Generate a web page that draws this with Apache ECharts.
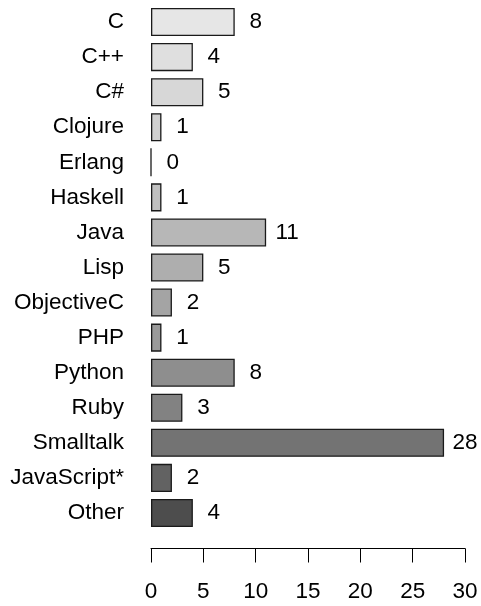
<!DOCTYPE html>
<html><head><meta charset="utf-8">
<script src="https://cdn.jsdelivr.net/npm/echarts@6/dist/echarts.min.js"></script>
<style>html,body{margin:0;padding:0;background:#fff}#c{width:481px;height:606px}</style>
</head><body><div id="c"></div>
<script>
const categories = ["C","C++","C#","Clojure","Erlang","Haskell","Java","Lisp","ObjectiveC","PHP","Python","Ruby","Smalltalk","JavaScript*","Other"];
const values = [8,4,5,1,0,1,11,5,2,1,8,3,28,2,4];
const barColors = ["#e6e6e6","#dfdfdf","#d7d7d7","#d0d0d0","#c8c8c8","#c0c0c0","#b7b7b7","#aeaeae","#a4a4a4","#9a9a9a","#8e8e8e","#828282","#737373","#626262","#4d4d4d"];
const xTicks = [0,5,10,15,20,25,30];

const chart = echarts.init(document.getElementById('c'), null, {renderer:'canvas'});
const font = 'Liberation Sans, Arial, Helvetica, sans-serif';
chart.setOption({
  animation:false,
  grid:{left:151,right:16,top:4.5,bottom:75.5,containLabel:false},
  xAxis:{type:'value',min:xTicks[0],max:xTicks[xTicks.length-1],interval:5,offset:18,
    axisLine:{show:true,lineStyle:{color:'#000',width:1}},
    axisTick:{show:true,length:14,lineStyle:{color:'#000',width:1}},
    splitLine:{show:false},
    axisLabel:{color:'#000',fontSize:22.5,fontFamily:font,margin:32}},
  yAxis:{type:'category',data:categories,inverse:true,
    axisLine:{show:false},axisTick:{show:false},
    axisLabel:{color:'#000',fontSize:22.5,fontFamily:font,margin:27}},
  series:[{type:'bar',barCategoryGap:'20%',
    data:values.map((v,i)=>({value:v,itemStyle:{color:barColors[i]}})),
    itemStyle:{borderColor:'#1a1a1a',borderWidth:1.3},
    label:{show:true,position:'right',distance:21,align:'center',color:'#000',fontSize:22.5,fontFamily:font}}]
});
</script></body></html>
